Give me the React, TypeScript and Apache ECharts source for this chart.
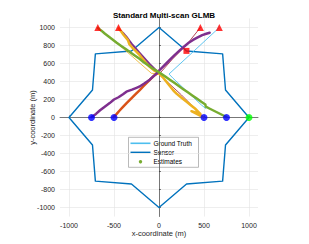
import React, { useEffect, useRef } from "react";
import * as echarts from "echarts";

// ---- axis ranges / ticks ----
const AXIS_MIN = -1100;
const AXIS_MAX = 1100;
const X_TICK_MIN = -1000;
const X_TICK_MAX = 1000;
const X_TICK_STEP = 500;
const Y_TICK_MIN = -1000;
const Y_TICK_MAX = 1000;
const Y_TICK_STEP = 200;

// ---- sensor boundary (closed polygon) ----
const SENSOR_X = [1000, 739, 707, 306, 0, -306, -707, -739, -1000, -739, -707, -306, 0, 306, 707, 739, 1000];
const SENSOR_Y = [0, 306, 707, 739, 1000, 739, 707, 306, 0, -306, -707, -739, -1000, -739, -707, -306, 0];

// ---- ground truth (visible thin lines) ----
const GT_LIGHTBLUE: number[][] = [[670, 1000], [390, 740], [111, 483], [156, 436], [470, 140], [520, 100]];
const GT_DARKRED: number[][] = [[460, 1000], [300, 800], [150, 650], [0, 480], [250, 250], [500, 0]];
const GT_ORANGE: number[][] = [[-470, 830], [-300, 680], [-84, 491], [0, 485]];

// ---- estimates (thick tracks) ----
const EST_PURPLE: number[][] = [
  [-748, 5], [-700, 40], [-655, 80], [-610, 115], [-548, 160], [-500, 200], [-450, 225], [-400, 258],
  [-362, 287], [-300, 310], [-250, 330], [-214, 345], [-160, 380], [-103, 420], [-60, 460], [-20, 495],
  [0, 520], [40, 560], [80, 600], [119, 640], [170, 690], [230, 745], [280, 790], [330, 830], [378, 862],
  [430, 890], [480, 915], [525, 930], [563, 942],
];
const EST_PURPLE2: number[][] = [
  [-420, 960], [-390, 930], [-360, 895], [-330, 855], [-300, 815], [-265, 775], [-225, 730], [-185, 685],
  [-145, 640], [-105, 595], [-65, 555], [-30, 520], [0, 495],
];
const EST_ORANGE: number[][] = [
  [-505, 5], [-470, 40], [-440, 75], [-400, 118], [-360, 160], [-307, 212], [-260, 260], [-214, 305],
  [-170, 350], [-122, 398], [-80, 440], [-48, 470], [-20, 490], [0, 500],
];
const EST_YELLOW: number[][] = [
  [-448, 990], [-420, 955], [-395, 920], [-370, 890], [-345, 860], [-330, 815], [-300, 780], [-260, 740],
  [-220, 700], [-180, 650], [-140, 600], [-100, 560], [-50, 520], [0, 490], [40, 450], [80, 400],
  [120, 350], [160, 300], [200, 260], [250, 220], [300, 180], [350, 140], [400, 100], [440, 60],
  [460, 40], [360, 70], [430, 35], [495, 0],
];
const EST_GREEN: number[][] = [
  [-678, 995], [-640, 965], [-600, 930], [-560, 900], [-520, 870], [-470, 830], [-420, 795], [-370, 760],
  [-320, 725], [-270, 690], [-220, 655], [-170, 615], [-120, 580], [-70, 545], [-20, 515], [20, 490],
  [70, 455], [120, 420], [170, 385], [220, 350], [270, 315], [320, 280], [370, 245], [420, 210],
  [470, 175], [515, 145], [520, 120], [560, 100], [610, 75], [660, 50], [710, 25], [750, 5],
];

// ---- markers ----
const BIRTH_POINTS: number[][] = [[-680, 1000], [-450, 1000], [460, 1000], [670, 1000]];
const END_POINTS: number[][] = [[-750, 0], [-500, 0], [500, 0], [750, 0]];
const SENSOR_POS: number[][] = [[1000, 0]];
const SQUARE_POINTS: number[][] = [[305, 740]];

const LEGEND_LABELS = ["Ground Truth", "Sensor", "Estimates"];

const FONT = "'Liberation Sans', Arial, Helvetica, sans-serif";
const C_SENSOR = "#0072BD";
const C_GT = "#4DBEEE";
const C_EST = "#77AC30";

export default function App() {
  const ref = useRef<HTMLDivElement>(null);
  useEffect(() => {
    if (!ref.current) return;
    const chart = echarts.init(ref.current, undefined, { renderer: "svg" });

    const line = (data: number[][], color: string, width: number, z = 3) => ({
      type: "line",
      xAxisIndex: 0,
      yAxisIndex: 0,
      data,
      showSymbol: false,
      symbol: "none",
      lineStyle: { color, width, cap: "round", join: "round" },
      z,
      silent: true,
    });
    const scatter = (data: number[][], color: string, symbol: string, size: number) => ({
      type: "scatter",
      xAxisIndex: 0,
      yAxisIndex: 0,
      data,
      symbol,
      symbolSize: size,
      itemStyle: { color },
      z: 10,
      silent: true,
    });

    const gridColor = "#e3e3e3";
    const tickColor = "#262626";
    const plain = (v: number) => String(v);

    chart.setOption({
      animation: false,
      backgroundColor: "#ffffff",
      textStyle: { fontFamily: FONT },
      title: {
        text: "Standard Multi-scan GLMB",
        left: 159,
        textAlign: "center",
        top: 6,
        textStyle: { fontSize: 8, fontWeight: "bold", color: "#000", fontFamily: FONT },
      },
      grid: [
        { left: 60, top: 18.5, width: 198, height: 198 },
        { left: 69, top: 18.5, width: 180, height: 198 },
        { left: 60, top: 27.5, width: 198, height: 180 },
      ],
      xAxis: [
        {
          gridIndex: 0, type: "value", min: AXIS_MIN, max: AXIS_MAX,
          axisLine: { show: true, lineStyle: { color: tickColor, width: 0.6 } },
          axisTick: { show: false }, axisLabel: { show: false }, splitLine: { show: false },
          name: "x-coordinate (m)", nameLocation: "middle", nameGap: 13,
          nameTextStyle: { fontSize: 7.5, color: tickColor, fontFamily: FONT },
        },
        {
          gridIndex: 1, type: "value", min: X_TICK_MIN, max: X_TICK_MAX, interval: X_TICK_STEP,
          axisLine: { show: false },
          axisTick: { show: true, inside: true, length: 2, lineStyle: { color: tickColor, width: 0.6 } },
          axisLabel: { fontSize: 7, color: tickColor, margin: 5, fontFamily: FONT, formatter: plain },
          splitLine: { show: true, lineStyle: { color: gridColor, width: 0.6 } },
        },
        { gridIndex: 2, type: "value", min: AXIS_MIN, max: AXIS_MAX, show: false },
      ],
      yAxis: [
        {
          gridIndex: 0, type: "value", min: AXIS_MIN, max: AXIS_MAX,
          axisLine: { show: true, lineStyle: { color: tickColor, width: 0.6 } },
          axisTick: { show: false }, axisLabel: { show: false }, splitLine: { show: false },
          name: "y-coordinate (m)", nameLocation: "middle", nameGap: 24,
          nameTextStyle: { fontSize: 7.5, color: tickColor, fontFamily: FONT },
        },
        { gridIndex: 1, type: "value", min: AXIS_MIN, max: AXIS_MAX, show: false },
        {
          gridIndex: 2, type: "value", min: Y_TICK_MIN, max: Y_TICK_MAX, interval: Y_TICK_STEP,
          axisLine: { show: false },
          axisTick: { show: true, inside: true, length: 2, lineStyle: { color: tickColor, width: 0.6 } },
          axisLabel: { fontSize: 7, color: tickColor, margin: 5, fontFamily: FONT, formatter: plain },
          splitLine: { show: true, lineStyle: { color: gridColor, width: 0.6 } },
        },
      ],
      series: [
        line(SENSOR_X.map((x, i) => [x, SENSOR_Y[i]]), C_SENSOR, 1.4, 2),
        line(GT_LIGHTBLUE, C_GT, 0.9, 3),
        line(GT_DARKRED, "#A2142F", 0.8, 3),
        line(GT_ORANGE, "#EDB120", 0.8, 3),
        line(EST_PURPLE2, "#7E2F8E", 2.0, 4),
        line(EST_ORANGE, "#D95319", 2.5, 4),
        line(EST_YELLOW, "#EDB120", 2.5, 4),
        line(EST_PURPLE, "#7E2F8E", 2.5, 5),
        line(EST_GREEN, C_EST, 2.5, 5),
        scatter(BIRTH_POINTS, "#FF0000", "triangle", 7),
        scatter(END_POINTS, "#0000FF", "circle", 7),
        scatter(SENSOR_POS, "#00FF00", "circle", 7),
        scatter(SQUARE_POINTS, "#FF0000", "rect", 6),
      ],
      graphic: [
        {
          type: "group",
          left: 128,
          top: 137,
          z: 100,
          children: [
            { type: "rect", shape: { x: 0, y: 0, width: 70, height: 30 }, style: { fill: "#fff", stroke: "#8c8c8c", lineWidth: 0.6 } },
            { type: "line", shape: { x1: 2, y1: 6, x2: 22, y2: 6 }, style: { stroke: C_GT, lineWidth: 1.6 } },
            { type: "line", shape: { x1: 2, y1: 15, x2: 22, y2: 15 }, style: { stroke: C_SENSOR, lineWidth: 1.4 } },
            { type: "circle", shape: { cx: 12, cy: 24.5, r: 1.7 }, style: { fill: C_EST } },
            { type: "text", x: 25, y: 6, style: { text: LEGEND_LABELS[0], fontSize: 6.5, fill: "#000", verticalAlign: "middle", fontFamily: FONT } },
            { type: "text", x: 25, y: 15, style: { text: LEGEND_LABELS[1], fontSize: 6.5, fill: "#000", verticalAlign: "middle", fontFamily: FONT } },
            { type: "text", x: 25, y: 24.5, style: { text: LEGEND_LABELS[2], fontSize: 6.5, fill: "#000", verticalAlign: "middle", fontFamily: FONT } },
          ],
        },
      ],
    });
    return () => chart.dispose();
  }, []);
  return <div ref={ref} style={{ position: "absolute", left: 0, top: 0, width: 309, height: 244 }} />;
}
